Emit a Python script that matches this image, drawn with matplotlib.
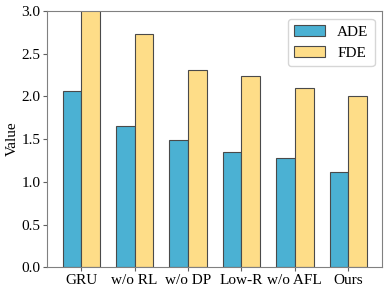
import matplotlib.pyplot as plt
import numpy as np

plt.rcParams['font.family'] = ['Liberation Serif', 'DejaVu Serif']

methods = ['GRU', 'w/o RL', 'w/o DP', 'Low-R', 'w/o AFL', 'Ours']
ade = [2.07, 1.65, 1.49, 1.35, 1.28, 1.11]
fde = [3.02, 2.73, 2.31, 2.24, 2.10, 2.01]

x = np.arange(len(methods))
w = 0.35

fig, ax = plt.subplots(figsize=(3.88, 2.93), dpi=100)
ax.bar(x - w / 2, ade, w, color='#4bb1d3', edgecolor='#4a4a4a', linewidth=0.8, label='ADE')
ax.bar(x + w / 2, fde, w, color='#fedd88', edgecolor='#4a4a4a', linewidth=0.8, label='FDE')

ax.set_xticks(x)
ax.set_xticklabels(methods, fontsize=11)
ax.tick_params(axis='both', labelsize=11, length=3, pad=2, color='#606060')
ax.set_ylim(0, 3.0)
ax.set_ylabel('Value', fontsize=11, labelpad=2)
for s in ax.spines.values():
    s.set_color('#808080')
ax.legend(loc='upper right', fontsize=11, handlelength=2.0)

plt.subplots_adjust(left=0.122, right=0.985, top=0.962, bottom=0.088)
plt.savefig('out.png')
